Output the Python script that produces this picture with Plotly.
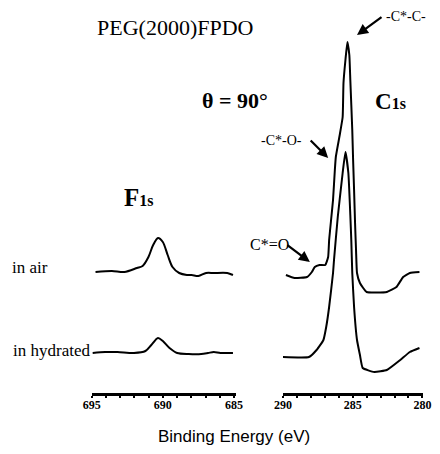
import plotly.graph_objects as go

# ---------------- data ----------------
# F1s region, binding energy (eV) and intensity (a.u., relative to own baseline)
f_air_be = [694.73, 693.58, 692.70, 691.82, 691.42, 691.01, 690.68, 690.34, 690.00,
            689.66, 689.32, 688.85, 688.31, 687.97, 687.50, 686.96, 686.42, 685.47, 685.07]
f_air_int = [1, 2, 1, 5, 7, 16, 28, 35, 31, 18, 6, 0, -2, -2, -3, 0, 0, 0, -2]

f_hyd_be = [694.93, 694.05, 693.18, 692.03, 691.22, 690.81, 690.34, 690.00, 689.53,
            688.99, 688.18, 687.30, 686.82, 686.42, 685.95, 685.07]
f_hyd_int = [2, 3, 3, 2, 4, 10, 17, 14, 7, 2, 1, 1, 2, 3, 2, 2]

# C1s region
c_air_be = [289.79, 289.17, 288.28, 287.93, 287.72, 287.38, 286.97, 286.76, 286.69, 286.55,
            286.41, 286.28, 286.21, 285.93, 285.72, 285.66, 285.52, 285.38, 285.24, 285.17,
            285.03, 284.97, 284.90, 284.83, 284.76, 284.69, 284.48, 284.00, 282.55, 281.86,
            281.38, 280.90, 280.21]
c_air_int = [-2, -5, -4, 1, 6, 8, 8, 16, 33, 53,
             73, 103, 116, 138, 156, 190, 213, 231, 218, 193,
             143, 113, 83, 50, 23, 0, -10, -19, -19, -14,
             -4, 0, 1]

c_hyd_be = [290.00, 288.14, 287.59, 287.10, 286.90, 286.69, 286.41, 286.34, 286.07, 285.72,
            285.52, 285.31, 285.17, 285.10, 285.03, 284.90, 284.69, 284.48, 284.28, 283.45,
            282.55, 281.59, 280.90, 280.21]
c_hyd_int = [-2, -2, 5, 15, 28, 48, 82, 95, 138, 182,
             203, 182, 140, 115, 82, 48, 15, 0, -13, -17,
             -15, -5, 3, 7]

f_ticks = [695, 690, 685]
c_ticks = [290, 285, 280]

# stacking offsets (a.u.)
OFF_AIR = 120
OFF_HYD = 38

# ---------------- layout helpers ----------------
W, H = 440, 454
PLOT_BOTTOM = 393


def X(px):
    return px / W


def Y(py):
    return (PLOT_BOTTOM - py) / PLOT_BOTTOM


line_style = dict(color="black", width=2)

fig = go.Figure()
fig.add_trace(go.Scatter(x=f_air_be, y=[v + OFF_AIR for v in f_air_int], mode="lines",
                         line=dict(line_style, shape="spline", smoothing=0.8),
                         xaxis="x", yaxis="y"))
fig.add_trace(go.Scatter(x=f_hyd_be, y=[v + OFF_HYD for v in f_hyd_int], mode="lines",
                         line=dict(line_style, shape="spline", smoothing=0.8),
                         xaxis="x", yaxis="y"))
fig.add_trace(go.Scatter(x=c_air_be, y=[v + OFF_AIR for v in c_air_int], mode="lines",
                         line=dict(line_style, shape="spline", smoothing=0.4),
                         xaxis="x2", yaxis="y"))
fig.add_trace(go.Scatter(x=c_hyd_be, y=[v + OFF_HYD for v in c_hyd_int], mode="lines",
                         line=dict(line_style, shape="spline", smoothing=0.4),
                         xaxis="x2", yaxis="y"))

tickfont = dict(family="Liberation Serif", size=12, color="black", weight="bold")
axis_common = dict(showline=True, linecolor="black", linewidth=2.5, ticks="outside",
                   ticklen=2, tickwidth=1.5, tickcolor="black", showgrid=False,
                   zeroline=False, tickfont=tickfont, anchor="y",
                   ticklabelstandoff=-3,
                   minor=dict(dtick=1, ticks="outside", ticklen=2, tickwidth=1.5,
                              tickcolor="black", showgrid=False))

fig.update_layout(
    width=W, height=H,
    margin=dict(l=0, r=0, t=0, b=H - PLOT_BOTTOM),
    paper_bgcolor="white", plot_bgcolor="white",
    showlegend=False,
    xaxis=dict(domain=[X(86), X(236)], range=[695, 695 - (236 - 86) / 14.8],
               tickmode="array", tickvals=f_ticks, **axis_common),
    xaxis2=dict(domain=[X(285), X(431)], range=[290, 290 - (431 - 285) / 14.5],
                tickmode="array", tickvals=c_ticks, **axis_common),
    yaxis=dict(range=[0, PLOT_BOTTOM], visible=False, domain=[0, 1]),
)

serif = "Liberation Serif"
texts = [
    ("PEG(2000)FPDO", 173, 28, dict(family=serif, size=22)),
    ("<b>θ = 90°</b>", 235, 100, dict(family=serif, size=22)),
    ("<b>C<span style='font-size:16px'>1s</span></b>", 397, 101, dict(family=serif, size=23)),
    ("<b>F<span style='font-size:16px'>1s</span></b>", 135, 198, dict(family=serif, size=25)),
    ("in air", 22, 267, dict(family=serif, size=17)),
    ("in hydrated", 44, 350, dict(family=serif, size=17)),
    ("-C*-C-", 413, 16, dict(family=serif, size=14)),
    ("-C*-O-", 283, 140, dict(family=serif, size=14)),
    ("C*=O", 271, 244, dict(family=serif, size=16)),
    ("Binding Energy (eV)", 234, 437, dict(family="Liberation Sans", size=17)),
]
for t, px, py, f in texts:
    f = dict(f, color="black")
    fig.add_annotation(text=t, x=X(px), y=Y(py), xref="paper", yref="paper",
                       xanchor="center", yanchor="middle", showarrow=False, font=f)

arrows = [((388, 16), (362, 35)), ((313, 139), (332, 158)), ((289, 244), (313, 262))]
for (tx, ty), (hx, hy) in arrows:
    fig.add_annotation(text="", x=X(hx), y=Y(hy), xref="paper", yref="paper",
                       ax=tx - hx, ay=ty - hy, showarrow=True, arrowhead=2,
                       arrowsize=1, arrowwidth=2.2, arrowcolor="black")

fig.write_html("out.html")
